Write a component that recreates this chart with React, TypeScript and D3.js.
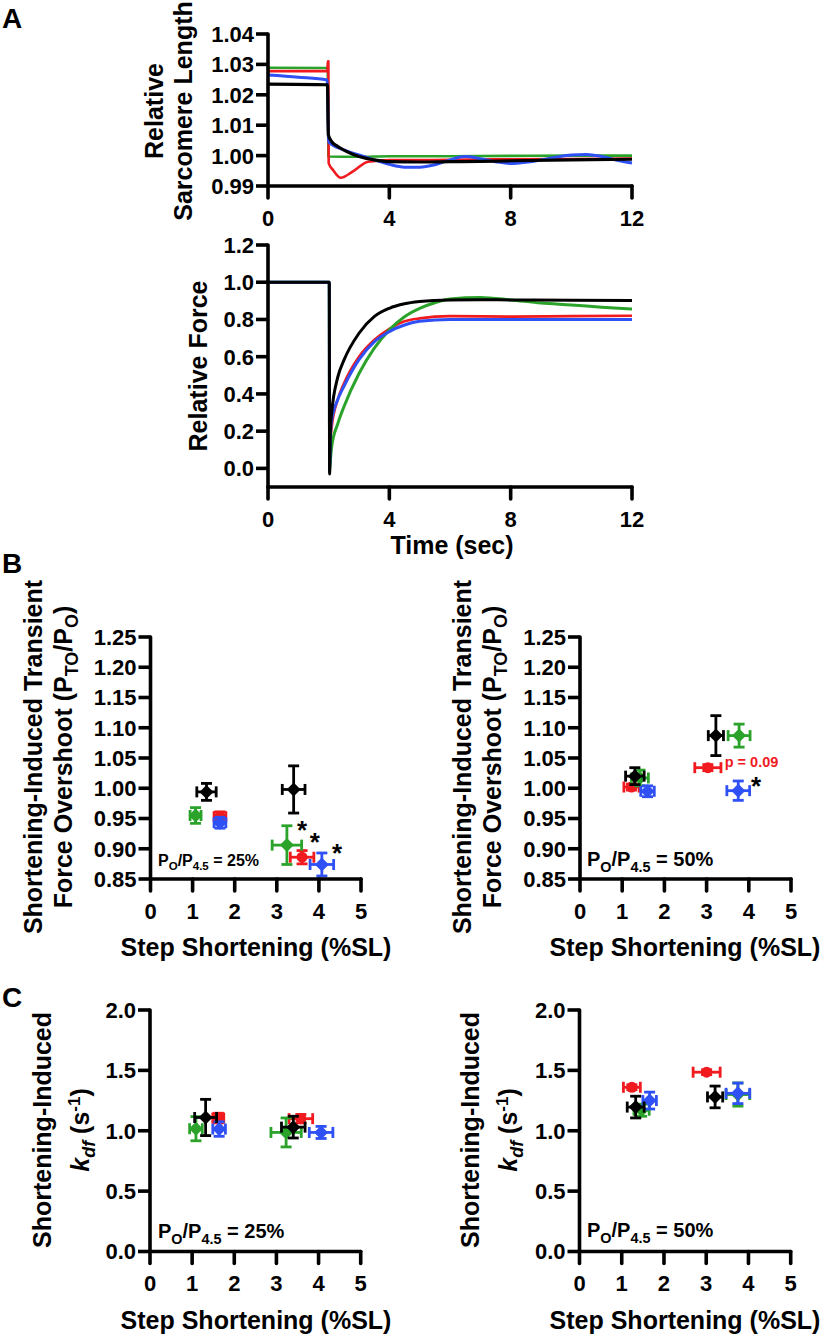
import React from "react";
import * as d3 from "d3";

// ---------- colours ----------
const RED = "#f01a1f";
const GREEN = "#2ba32b";
const BLUE = "#2f50f5";
const BLACK = "#000000";
const FONT = "'Liberation Sans', Arial, Helvetica, sans-serif";

// ---------- Panel A (time courses) ----------
const timeTicks = [0, 4, 8, 12];
const slTicks = [0.99, 1.0, 1.01, 1.02, 1.03, 1.04];
const forceTicks = [0.0, 0.2, 0.4, 0.6, 0.8, 1.0, 1.2];

// [time (s), relative sarcomere length]
const slGreen: number[][] = [[0, 1.0289], [1.97, 1.0288], [1.99, 0.9997], [3, 0.9996], [4, 0.9998], [6, 0.9998], [8, 0.9999], [10, 1.0], [12, 1.0]];
const slRed: number[][] = [[0, 1.0278], [1.96, 1.0278], [1.97, 1.031], [1.99, 1.031], [2.0, 0.9975], [2.15, 0.9952], [2.4, 0.9927], [2.8, 0.9948], [3.3, 0.998], [4, 0.9985], [6, 0.9986], [8, 0.9988], [10, 0.9989], [12, 0.999]];
const slBlue: number[][] = [[0, 1.0265], [1, 1.0258], [1.95, 1.0249], [2.0, 1.0045], [2.5, 1.0019], [3, 1.0002], [3.5, 0.9986], [4, 0.9971], [4.5, 0.9962], [5, 0.9962], [5.5, 0.997], [6, 0.9986], [6.5, 0.9997], [7, 0.999], [7.5, 0.998], [8, 0.9974], [8.5, 0.9978], [9, 0.9986], [9.5, 0.9995], [10, 1.0002], [10.5, 1.0004], [11, 0.9997], [11.5, 0.9985], [12, 0.9976]];
const slBlack: number[][] = [[0, 1.0235], [1.96, 1.0233], [1.99, 1.0068], [2.1, 1.0046], [2.3, 1.003], [2.6, 1.0013], [3, 0.9997], [3.5, 0.9986], [4, 0.998], [5, 0.9979], [6, 0.998], [7, 0.9981], [8, 0.9983], [10, 0.9986], [12, 0.9988]];

// [time (s), relative force]
const forceRed: number[][] = [[0, 1], [2.02, 1], [2.03, 0.0], [2.06, 0.15], [2.1, 0.22], [2.3, 0.37], [2.5, 0.455], [3, 0.6], [3.5, 0.69], [4, 0.75], [4.5, 0.79], [5, 0.806], [6, 0.818], [8, 0.815], [10, 0.818], [12, 0.82]];
const forceGreen: number[][] = [[0, 1], [2.02, 1], [2.03, -0.02], [2.05, 0.03], [2.1, 0.116], [2.3, 0.24], [2.5, 0.33], [3, 0.51], [3.5, 0.645], [4, 0.744], [4.5, 0.815], [5, 0.86], [5.5, 0.89], [6, 0.91], [7, 0.918], [8, 0.905], [9, 0.888], [10, 0.878], [11, 0.866], [12, 0.856]];
const forceBlue: number[][] = [[0, 1], [2.02, 1], [2.03, 0.0], [2.06, 0.18], [2.1, 0.26], [2.3, 0.37], [2.5, 0.44], [3, 0.584], [3.5, 0.68], [4, 0.735], [4.5, 0.77], [5, 0.79], [6, 0.8], [8, 0.8], [10, 0.8], [12, 0.8]];
const forceBlack: number[][] = [[0, 1], [2.02, 1], [2.03, -0.03], [2.06, 0.22], [2.1, 0.3], [2.3, 0.49], [2.5, 0.58], [3, 0.726], [3.5, 0.815], [4, 0.86], [4.5, 0.884], [5, 0.896], [6, 0.905], [7, 0.906], [8, 0.905], [10, 0.903], [12, 0.902]];

// ---------- Panels B & C (x, y, xErr, yErr) ----------
const stepTicks = [0, 1, 2, 3, 4, 5];
const overshootTicks = [0.85, 0.9, 0.95, 1.0, 1.05, 1.1, 1.15, 1.2, 1.25];
const kdfTicks = [0.0, 0.5, 1.0, 1.5, 2.0];

const b25Red = [[1.65, 0.953, 0.14, 0.008], [3.6, 0.886, 0.28, 0.011]];
const b25Green = [[1.07, 0.955, 0.13, 0.013], [3.24, 0.906, 0.35, 0.032]];
const b25Blue = [[1.65, 0.943, 0.14, 0.009], [4.07, 0.874, 0.28, 0.019]];
const b25Black = [[1.33, 0.994, 0.23, 0.014], [3.4, 0.998, 0.27, 0.039]];

const b50Red = [[1.22, 1.002, 0.18, 0.005], [3.03, 1.034, 0.31, 0.005]];
const b50Green = [[1.42, 1.017, 0.2, 0.013], [3.77, 1.087, 0.26, 0.019]];
const b50Blue = [[1.6, 0.995, 0.16, 0.009], [3.75, 0.996, 0.27, 0.016]];
const b50Black = [[1.3, 1.02, 0.22, 0.014], [3.22, 1.087, 0.18, 0.033]];

const c25Red = [[1.62, 1.105, 0.13, 0.04], [3.58, 1.1, 0.28, 0.035]];
const c25Green = [[1.09, 1.017, 0.15, 0.1], [3.23, 0.986, 0.36, 0.12]];
const c25Blue = [[1.64, 1.014, 0.15, 0.06], [4.06, 0.986, 0.28, 0.05]];
const c25Black = [[1.32, 1.11, 0.26, 0.15], [3.4, 1.03, 0.28, 0.09]];

const c50Red = [[1.24, 1.36, 0.2, 0.02], [3.01, 1.485, 0.32, 0.02]];
const c50Green = [[1.47, 1.17, 0.18, 0.05], [3.75, 1.3, 0.28, 0.096]];
const c50Blue = [[1.66, 1.25, 0.16, 0.07], [3.75, 1.31, 0.28, 0.085]];
const c50Black = [[1.33, 1.196, 0.2, 0.09], [3.21, 1.28, 0.18, 0.09]];

const b25Stars = [[3.6, 0.938], [3.9, 0.918], [4.43, 0.899]];
const b50Stars = [[4.17, 1.011]];

// ---------- scales ----------
const xA = d3.scaleLinear().domain([0, 12]).range([268, 632]);
const yA1 = d3.scaleLinear().domain([0.99, 1.04]).range([186, 34]);
const yA2 = d3.scaleLinear().domain([-0.1, 1.2]).range([487, 245]);

const xBL = d3.scaleLinear().domain([0, 5]).range([150.5, 361]);
const xBR = d3.scaleLinear().domain([0, 5]).range([580, 791]);
const yB = d3.scaleLinear().domain([0.85, 1.25]).range([879, 637]);
const xCL = d3.scaleLinear().domain([0, 5]).range([150, 360.7]);
const xCR = d3.scaleLinear().domain([0, 5]).range([579.5, 790.7]);
const yC = d3.scaleLinear().domain([0, 2]).range([1251.5, 1010]);

type Scale = d3.ScaleLinear<number, number>;

function Axes({ x, y, xTicks, yTicks, yFmt, yMin, yMax, tick = 12 }: {
  x: Scale; y: Scale; xTicks: number[]; yTicks: number[]; yFmt: string; yMin: number; yMax: number; tick?: number;
}) {
  const x0 = x(x.domain()[0]);
  const x1 = x(x.domain()[1]);
  const yb = y(yMin);
  const yt = y(yMax);
  const f = d3.format(yFmt);
  return (
    <g stroke={BLACK} strokeWidth={3.6} fontFamily={FONT} fontWeight="bold" fontSize={22}>
      <line x1={x0} x2={x0} y1={yt} y2={yb} strokeLinecap="round" />
      <line x1={x0} x2={x1} y1={yb} y2={yb} strokeLinecap="round" />
      {yTicks.map((v) => (
        <g key={"y" + v}>
          <line x1={x0 - tick} x2={x0} y1={y(v)} y2={y(v)} />
          <text x={x0 - tick - 2} y={y(v)} dy="0.36em" textAnchor="end" stroke="none" fill={BLACK}>{f(v)}</text>
        </g>
      ))}
      {xTicks.map((v) => (
        <g key={"x" + v}>
          <line x1={x(v)} x2={x(v)} y1={yb} y2={yb + tick} strokeLinecap="round" />
          <text x={x(v)} y={yb + 32} dy="0.36em" textAnchor="middle" stroke="none" fill={BLACK}>{v}</text>
        </g>
      ))}
    </g>
  );
}

function Trace({ data, x, y, color, width = 2.6 }: { data: number[][]; x: Scale; y: Scale; color: string; width?: number }) {
  const line = d3.line<number[]>().x((d) => x(d[0])).y((d) => y(d[1])).curve(d3.curveMonotoneX);
  return <path d={line(data) || ""} fill="none" stroke={color} strokeWidth={width} strokeLinejoin="round" />;
}

function Points({ data, x, y, color, shape }: { data: number[][]; x: Scale; y: Scale; color: string; shape: "circle" | "diamond" }) {
  const cap = 5.5;
  return (
    <g stroke={color} fill={color} strokeWidth={2.8}>
      {data.map((d, i) => {
        const cx = x(d[0]);
        const cy = y(d[1]);
        const xl = x(d[0] - d[2]);
        const xr = x(d[0] + d[2]);
        const yt = y(d[1] + d[3]);
        const yb = y(d[1] - d[3]);
        return (
          <g key={i}>
            <line x1={xl} x2={xr} y1={cy} y2={cy} />
            <line x1={xl} x2={xl} y1={cy - cap} y2={cy + cap} />
            <line x1={xr} x2={xr} y1={cy - cap} y2={cy + cap} />
            <line x1={cx} x2={cx} y1={yt} y2={yb} />
            <line x1={cx - cap} x2={cx + cap} y1={yt} y2={yt} />
            <line x1={cx - cap} x2={cx + cap} y1={yb} y2={yb} />
            {shape === "circle" ? (
              <circle cx={cx} cy={cy} r={5.5} stroke="none" />
            ) : (
              <path d={`M${cx},${cy - 7}L${cx + 7},${cy}L${cx},${cy + 7}L${cx - 7},${cy}Z`} stroke="none" />
            )}
          </g>
        );
      })}
    </g>
  );
}

function Group({ x, y, red, green, blue, black }: { x: Scale; y: Scale; red: number[][]; green: number[][]; blue: number[][]; black: number[][] }) {
  return (
    <g>
      <Points data={red} x={x} y={y} color={RED} shape="circle" />
      <Points data={green} x={x} y={y} color={GREEN} shape="diamond" />
      <Points data={blue} x={x} y={y} color={BLUE} shape="diamond" />
      <Points data={black} x={x} y={y} color={BLACK} shape="diamond" />
    </g>
  );
}

function PoLabel({ x, y, pct, size }: { x: number; y: number; pct: string; size: number }) {
  const sub = size * 0.72;
  const sh = size * 0.28;
  return (
    <text x={x} y={y} fontFamily={FONT} fontWeight="bold" fontSize={size} fill={BLACK}>
      P<tspan dy={sh} fontSize={sub}>O</tspan>
      <tspan dy={-sh}>/P</tspan>
      <tspan dy={sh} fontSize={sub}>4.5</tspan>
      <tspan dy={-sh}>{" = " + pct}</tspan>
    </text>
  );
}

function OvershootTitle({ cx1, cx2, cy }: { cx1: number; cx2: number; cy: number }) {
  return (
    <g fontFamily={FONT} fontWeight="bold" fontSize={25} fill={BLACK}>
      <text transform={`translate(${cx1},${cy}) rotate(-90)`} textAnchor="middle" dy="0.36em">Shortening-Induced Transient</text>
      <text transform={`translate(${cx2},${cy}) rotate(-90)`} textAnchor="middle" dy="0.36em">
        Force Overshoot (P<tspan dy={6} fontSize={18}>TO</tspan><tspan dy={-6}>/P</tspan><tspan dy={6} fontSize={18}>O</tspan><tspan dy={-6}>)</tspan>
      </text>
    </g>
  );
}

function KdfTitle({ cx1, cx2, cy }: { cx1: number; cx2: number; cy: number }) {
  return (
    <g fontFamily={FONT} fontWeight="bold" fontSize={25} fill={BLACK}>
      <text transform={`translate(${cx1},${cy}) rotate(-90)`} textAnchor="middle" dy="0.36em">Shortening-Induced</text>
      <text transform={`translate(${cx2},${cy}) rotate(-90)`} textAnchor="middle" dy="0.36em">
        <tspan fontStyle="italic">k</tspan><tspan dy={6} fontSize={18} fontStyle="italic">df</tspan><tspan dy={-6}> (s</tspan><tspan dy={-9} fontSize={17}>-1</tspan><tspan dy={9}>)</tspan>
      </text>
    </g>
  );
}

function Stars({ data, x, y }: { data: number[][]; x: Scale; y: Scale }) {
  return (
    <g fontFamily={FONT} fontWeight="bold" fontSize={26} fill={BLACK}>
      {data.map((d, i) => (
        <text key={i} x={x(d[0])} y={y(d[1]) + 13} textAnchor="middle">*</text>
      ))}
    </g>
  );
}

export default function App() {
  const titleStyle = { fontFamily: FONT, fontWeight: "bold" as const, fontSize: 25, fill: BLACK };
  return (
    <svg width={825} height={1339} viewBox="0 0 825 1339" style={{ position: "absolute", left: 0, top: 0, background: "#fff" }}>
      <rect x={0} y={0} width={825} height={1339} fill="#fff" />
      {/* Panel letters */}
      <g fontFamily={FONT} fontWeight="bold" fontSize={28} fill={BLACK}>
        <text x={2} y={28}>A</text>
        <text x={2} y={573}>B</text>
        <text x={2} y={1007}>C</text>
      </g>

      {/* ---------- A top ---------- */}
      <Trace data={slGreen} x={xA} y={yA1} color={GREEN} />
      <Trace data={slRed} x={xA} y={yA1} color={RED} />
      <Trace data={slBlue} x={xA} y={yA1} color={BLUE} width={3} />
      <Trace data={slBlack} x={xA} y={yA1} color={BLACK} width={3.2} />
      <Axes x={xA} y={yA1} xTicks={timeTicks} yTicks={slTicks} yFmt=".2f" yMin={0.99} yMax={1.04} />
      <text transform={`translate(154,111) rotate(-90)`} textAnchor="middle" dy="0.36em" {...titleStyle}>Relative</text>
      <text transform={`translate(183,111) rotate(-90)`} textAnchor="middle" dy="0.36em" {...titleStyle}>Sarcomere Length</text>

      {/* ---------- A bottom ---------- */}
      <Trace data={forceRed} x={xA} y={yA2} color={RED} />
      <Trace data={forceGreen} x={xA} y={yA2} color={GREEN} width={3} />
      <Trace data={forceBlue} x={xA} y={yA2} color={BLUE} width={3} />
      <Trace data={forceBlack} x={xA} y={yA2} color={BLACK} width={3} />
      <Axes x={xA} y={yA2} xTicks={timeTicks} yTicks={forceTicks} yFmt=".1f" yMin={-0.1} yMax={1.2} />
      <text transform={`translate(198,366) rotate(-90)`} textAnchor="middle" dy="0.36em" {...titleStyle}>Relative Force</text>
      <text x={452} y={545} textAnchor="middle" dy="0.36em" {...titleStyle}>Time (sec)</text>

      {/* ---------- B left ---------- */}
      <Group x={xBL} y={yB} red={b25Red} green={b25Green} blue={b25Blue} black={b25Black} />
      <Stars data={b25Stars} x={xBL} y={yB} />
      <Axes x={xBL} y={yB} xTicks={stepTicks} yTicks={overshootTicks} yFmt=".2f" yMin={0.85} yMax={1.25} />
      <PoLabel x={158} y={866} pct="25%" size={16} />
      <OvershootTitle cx1={33} cx2={63} cy={757} />
      <text x={256} y={947} textAnchor="middle" dy="0.36em" {...titleStyle}>Step Shortening (%SL)</text>

      {/* ---------- B right ---------- */}
      <Group x={xBR} y={yB} red={b50Red} green={b50Green} blue={b50Blue} black={b50Black} />
      <Stars data={b50Stars} x={xBR} y={yB} />
      <text x={xBR(3.43)} y={yB(1.044)} dy="0.36em" fontFamily={FONT} fontWeight="bold" fontSize={14.5} fill={RED}>p = 0.09</text>
      <Axes x={xBR} y={yB} xTicks={stepTicks} yTicks={overshootTicks} yFmt=".2f" yMin={0.85} yMax={1.25} />
      <PoLabel x={587} y={866} pct="50%" size={20} />
      <OvershootTitle cx1={462} cx2={492} cy={757} />
      <text x={685} y={947} textAnchor="middle" dy="0.36em" {...titleStyle}>Step Shortening (%SL)</text>

      {/* ---------- C left ---------- */}
      <Group x={xCL} y={yC} red={c25Red} green={c25Green} blue={c25Blue} black={c25Black} />
      <Axes x={xCL} y={yC} xTicks={stepTicks} yTicks={kdfTicks} yFmt=".1f" yMin={0} yMax={2} />
      <PoLabel x={158} y={1238} pct="25%" size={20} />
      <KdfTitle cx1={42} cx2={80} cy={1130} />
      <text x={256} y={1320} textAnchor="middle" dy="0.36em" {...titleStyle}>Step Shortening (%SL)</text>

      {/* ---------- C right ---------- */}
      <Group x={xCR} y={yC} red={c50Red} green={c50Green} blue={c50Blue} black={c50Black} />
      <Axes x={xCR} y={yC} xTicks={stepTicks} yTicks={kdfTicks} yFmt=".1f" yMin={0} yMax={2} />
      <PoLabel x={587} y={1237} pct="50%" size={20} />
      <KdfTitle cx1={470} cx2={508} cy={1130} />
      <text x={685} y={1320} textAnchor="middle" dy="0.36em" {...titleStyle}>Step Shortening (%SL)</text>
    </svg>
  );
}
